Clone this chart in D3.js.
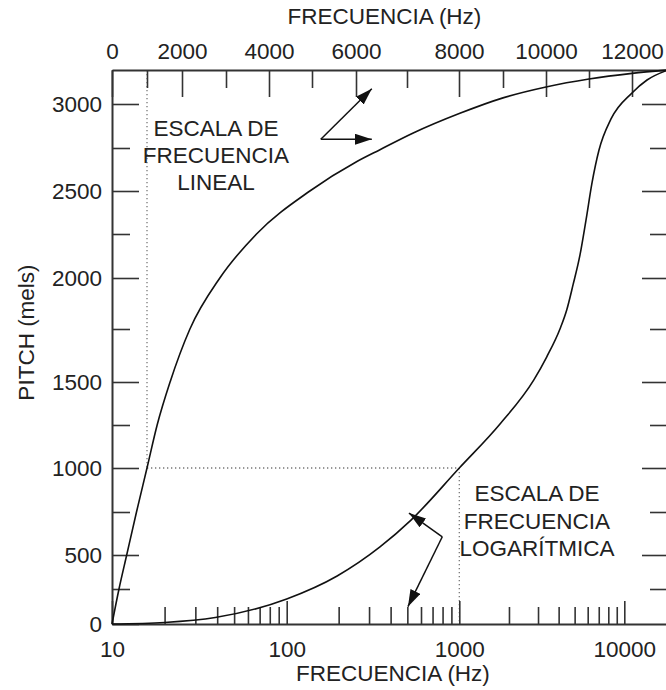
<!DOCTYPE html>
<html><head><meta charset="utf-8">
<script src="https://cdn.jsdelivr.net/npm/d3@7/dist/d3.min.js"></script>
<style>body{margin:0;background:#fff}svg{display:block}</style>
</head><body>
<script>
// ---------------- DATA ----------------
const linearFreqTicks  = [0,1000,2000,3000,4000,5000,6000,7000,8000,9000,10000,11000,12000];
const linearFreqLabels = [0,2000,4000,6000,8000,10000,12000];
const pitchTicks  = [0,250,500,750,1000,1250,1500,1750,2000,2250,2500,2750,3000];
const pitchLabels = [0,500,1000,1500,2000,2500,3000];
const logLabels   = [10,100,1000,10000];
const logMinorTicks = [20,30,40,50,60,70,80,90,200,300,400,500,600,700,800,900,2000,3000,4000,5000,6000,7000,8000,9000];

// pitch (mels) vs frequency on the linear (top) scale
const linearCurveHz  = [0,200,420,700,1000,1290,1660,2180,2860,3710,4950,6010,6470,7120,8020,9000,10000,11000,12000,12840];
const linearCurveMel = [0,250,500,750,1000,1250,1500,1750,2000,2250,2500,2670,2740,2835,2947,3036,3100,3147,3180,3200];
// pitch (mels) vs frequency on the logarithmic (bottom) scale
const logCurveHz  = [10,20,39,100,196,347,525,1000,1765,2830,3390,4075,4477,4889,5389,5860,6372,7026,8307,11134,13730,18400];
const logCurveMel = [0,11,46,179,346,547,703,1000,1256,1510,1619,1750,1843,1966,2131,2331,2547,2738,2915,3065,3141,3200];

const refHz = 1000, refMel = 1000;
const titleTop = "FRECUENCIA (Hz)", titleBottom = "FRECUENCIA (Hz)", titleY = "PITCH (mels)";
const labelLinear = ["ESCALA DE","FRECUENCIA","LINEAL"];
const labelLog = ["ESCALA DE","FRECUENCIA","LOGARÍTMICA"];

// ---------------- LAYOUT ----------------
const W = 666, H = 690;
const FONT = "'Liberation Sans', Arial, Helvetica, sans-serif";
const FS = 22.5;
const topPx   = [112,147,182,226,269,312,356,407,459,503,546,589,632,668];
const pitchPx = [624,589,555,512,468,425,382,329,278,234,191,148,104,70];
const logPx   = [112,286.7,459.3,624.3,668];

const xTop = d3.scaleLinear().domain(linearFreqTicks.concat([12840])).range(topPx);
const y    = d3.scaleLinear().domain(pitchTicks.concat([3200])).range(pitchPx);
const xLog = d3.scaleLog().domain(logLabels.concat([18400])).range(logPx);

const L = 112, R = 668, T = 70, B = 624;

const svg = d3.select("body").append("svg").attr("width", W).attr("height", H)
  .style("font-family", FONT);

const defs = svg.append("defs");
defs.append("marker").attr("id","ah").attr("viewBox","0 0 17 11")
  .attr("refX",17).attr("refY",5.5).attr("markerWidth",17).attr("markerHeight",11)
  .attr("markerUnits","userSpaceOnUse").attr("orient","auto")
  .append("path").attr("d","M0,0L17,5.5L0,11Z").attr("fill","#111");

function styleAxis(g, showDomain) {
  g.attr("font-family", FONT).attr("font-size", FS);
  g.selectAll(".tick line").attr("stroke","#333").attr("stroke-width",1.6);
  g.selectAll(".tick text").attr("fill","#222");
  g.select(".domain").attr("stroke", showDomain ? "#333" : "none").attr("stroke-width",2);
}

// dotted reference lines
const dot = svg.append("g").attr("stroke","#777").attr("stroke-width",1.3)
  .attr("stroke-dasharray","1.3 2.7").attr("fill","none");
dot.append("line").attr("x1", xTop(refHz)).attr("x2", xTop(refHz)).attr("y1", T).attr("y2", y(refMel));
dot.append("line").attr("x1", xTop(refHz)).attr("x2", xLog(refHz)).attr("y1", y(refMel)).attr("y2", y(refMel));
dot.append("line").attr("x1", xLog(refHz)).attr("x2", xLog(refHz)).attr("y1", y(refMel)).attr("y2", B);

// top axis (linear frequency)
const minorTop = linearFreqTicks.filter(v => !linearFreqLabels.includes(v));
svg.append("g").attr("transform",`translate(0,${T})`)
  .call(d3.axisTop(xTop).tickValues(minorTop).tickSize(-18).tickSizeOuter(0).tickFormat(""))
  .call(g => styleAxis(g, false));
svg.append("g").attr("transform",`translate(0,${T})`)
  .call(d3.axisTop(xTop).tickValues(linearFreqLabels).tickSize(-27).tickSizeOuter(0).tickPadding(11).tickFormat(d3.format("d")))
  .call(g => styleAxis(g, true));

// left axis (pitch)
const minorPitch = pitchTicks.filter(v => !pitchLabels.includes(v));
svg.append("g").attr("transform",`translate(${L},0)`)
  .call(d3.axisLeft(y).tickValues(minorPitch).tickSize(-18).tickSizeOuter(0).tickFormat(""))
  .call(g => styleAxis(g, false));
svg.append("g").attr("transform",`translate(${L},0)`)
  .call(d3.axisLeft(y).tickValues(pitchLabels).tickSize(-27).tickSizeOuter(0).tickPadding(10).tickFormat(d3.format("d")))
  .call(g => styleAxis(g, true));

// right ticks
svg.append("g").attr("transform",`translate(${R},0)`)
  .call(d3.axisRight(y).tickValues(minorPitch).tickSize(-18).tickSizeOuter(0).tickFormat(""))
  .call(g => styleAxis(g, false));
svg.append("g").attr("transform",`translate(${R},0)`)
  .call(d3.axisRight(y).tickValues(pitchLabels.filter(v=>v>0)).tickSize(-26).tickSizeOuter(0).tickFormat(""))
  .call(g => styleAxis(g, true));

// bottom axis (log frequency)
svg.append("g").attr("transform",`translate(0,${B})`)
  .call(d3.axisBottom(xLog).tickValues(logMinorTicks).tickSize(-17).tickSizeOuter(0).tickFormat(""))
  .call(g => styleAxis(g, false));
svg.append("g").attr("transform",`translate(0,${B})`)
  .call(d3.axisBottom(xLog).tickValues(logLabels).tickSize(-23).tickSizeOuter(0).tickPadding(17).tickFormat(d3.format("d")))
  .call(g => styleAxis(g, true));

// curves
const linData = linearCurveHz.map((h,i)=>[h, linearCurveMel[i]]);
const logData = logCurveHz.map((h,i)=>[h, logCurveMel[i]]);
svg.append("path").datum(linData).attr("fill","none").attr("stroke","#111").attr("stroke-width",1.6)
  .attr("d", d3.line().x(d=>xTop(d[0])).y(d=>y(d[1])).curve(d3.curveMonotoneX));
svg.append("path").datum(logData).attr("fill","none").attr("stroke","#111").attr("stroke-width",1.6)
  .attr("d", d3.line().x(d=>xLog(d[0])).y(d=>y(d[1])).curve(d3.curveMonotoneX));

// annotation arrows (anchored in data units)
const arrows = svg.append("g").attr("stroke","#111").attr("stroke-width",1.5).attr("fill","none");
function arrow(x1,y1,x2,y2){
  arrows.append("line").attr("x1",x1).attr("y1",y1).attr("x2",x2).attr("y2",y2).attr("marker-end","url(#ah)");
}
const vLin = [xTop(5200), y(2800)];
arrow(vLin[0], vLin[1], xTop(6310), y(3090));
arrow(vLin[0], vLin[1], xTop(6310), y(2800));
const vLog = [xLog(797), y(606)];
arrow(vLog[0], vLog[1], xLog(511), y(744));
arrow(vLog[0], vLog[1], xLog(504), y(124));

// texts
const txt = svg.append("g").attr("fill","#222").attr("font-size", FS);
txt.append("text").attr("x",384.5).attr("y",24).attr("text-anchor","middle").text(titleTop);
txt.append("text").attr("x",393).attr("y",681).attr("text-anchor","middle").text(titleBottom);
txt.append("text").attr("transform","translate(33.5,332.5) rotate(-90)").attr("text-anchor","middle").text(titleY);
labelLinear.forEach((s,i)=>{
  txt.append("text").attr("x",216).attr("y",136+i*27).attr("text-anchor","middle").text(s);
});
labelLog.forEach((s,i)=>{
  txt.append("text").attr("x",537).attr("y",501+i*27.5).attr("text-anchor","middle").text(s);
});
</script>
</body></html>
